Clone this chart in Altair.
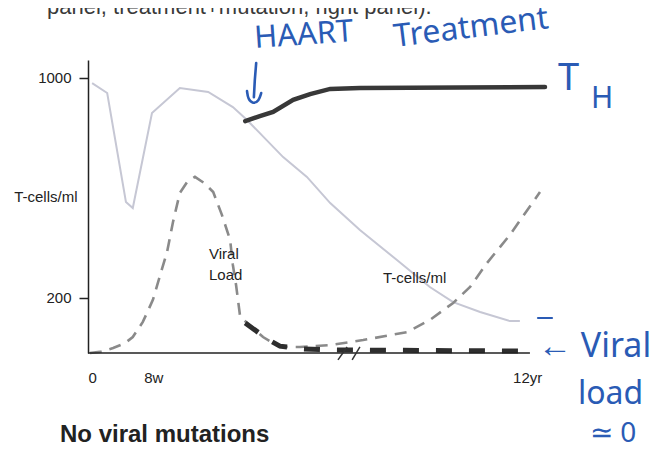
import altair as alt
import pandas as pd

# ---- data (time index 0..100, T-cells/ml) ----
tcell_t = [0.9, 4.2, 8.3, 9.8, 14.0, 20.1, 26.3, 31.7, 34.8, 42.7, 47.9, 53.0, 59.5, 67.6, 74.8, 79.9, 85.8, 92.3, 94.5]
tcell_v = [981, 945, 549, 527, 872, 963, 949, 894, 847, 712, 640, 545, 447, 338, 240, 185, 149, 116, 116]

haart_t = [34.4, 37.6, 40.5, 44.9, 48.6, 53.0, 59.5, 100.0]
haart_v = [843, 861, 876, 920, 941, 960, 963, 967]

viral_t = [0.4, 2.6, 5.5, 8.1, 9.8, 12.0, 14.2, 15.8, 17.3, 18.6, 20.1, 21.7, 23.4, 25.4, 27.4, 29.3, 31.1, 31.7,
           32.4, 33.3, 35.4, 38.3, 42.0, 46.4, 53.0, 60.2, 69.8, 74.8, 79.9, 83.6, 87.3, 92.3, 98.9]
viral_v = [0, 4, 18, 36, 58, 113, 193, 284, 367, 476, 582, 622, 640, 618, 585, 502, 411, 320,
           247, 131, 102, 58, 22, 22, 29, 47, 76, 120, 182, 240, 327, 429, 585]

treated_t = [34.4, 36.5, 39.2, 42.0, 46.4, 53.0, 96.7]
treated_v = [109, 84, 51, 25, 15, 11, 7]

hook_stem_t = [36.8, 36.5, 36.3]
hook_stem_v = [1054, 992, 930]
hook_cup_t = [34.8, 35.0, 36.1, 37.4, 37.9]
hook_cup_v = [952, 923, 905, 916, 945]

x_tick_values = [0, 14.3, 96.1]
x_tick_labels = ["0", "8w", "12yr"]
y_tick_values = [200, 1000]

FONT = "Liberation Sans"
HAND = "Noto Sans"
BLUE = "#2a5bb5"
OX, OY = 88, 60  # plot origin on the page

xs = alt.Scale(domain=[0, 100], nice=False, zero=False)
ys = alt.Scale(domain=[0, 1065], nice=False, zero=False)

label_expr = " : ".join(
    [f"abs(datum.value - {v}) < 0.5 ? '{l}'" for v, l in zip(x_tick_values, x_tick_labels)]
) + " : ''"

xaxis = alt.Axis(values=x_tick_values, labelExpr=label_expr, domain=False, ticks=False, grid=False,
                 labelPadding=17, labelFontSize=15, labelFont=FONT, labelColor="#222", title=None)
yaxis = alt.Axis(values=y_tick_values, tickSize=9, tickColor="#222", tickWidth=1.5, domainColor="#222",
                 domainWidth=1.5, grid=False, labelFontSize=15, labelFont=FONT, labelColor="#222",
                 labelPadding=8, format="d",
                 title="T-cells/ml", titleAngle=0, titleAlign="right", titleBaseline="middle",
                 titleX=-11, titleY=136, titleFontWeight="normal", titleFontSize=15, titleFont=FONT,
                 titleColor="#222")

X = alt.X("t:Q", scale=xs, axis=xaxis)
Y = alt.Y("v:Q", scale=ys, axis=yaxis)


def line(ts, vs, **kw):
    df = pd.DataFrame({"t": ts, "v": vs, "o": list(range(len(ts)))})
    return alt.Chart(df).mark_line(**kw).encode(x=X, y=Y, order="o:Q")


def note(text, px, py, size, color="#222", font=FONT, weight="normal", align="left",
         baseline="alphabetic", angle=0):
    return alt.Chart(pd.DataFrame({"s": [text]})).mark_text(
        align=align, baseline=baseline, fontSize=size, font=font, color=color,
        fontWeight=weight, angle=angle
    ).encode(text="s:N", x=alt.value(px - OX), y=alt.value(py - OY))


tcell = line(tcell_t, tcell_v, color="#c6c7d4", strokeWidth=2)
viral = line(viral_t, viral_v, color="#8a8a8a", strokeWidth=2.6, strokeDash=[12, 8])
haart = line(haart_t, haart_v, color="#383838", strokeWidth=4.5, strokeCap="round")
treated = line(treated_t, treated_v, color="#2e2e2e", strokeWidth=5, strokeDash=[16, 17])
stem = line(hook_stem_t, hook_stem_v, color=BLUE, strokeWidth=2.6, strokeCap="round")
cup = line(hook_cup_t, hook_cup_v, color=BLUE, strokeWidth=2.6, strokeCap="round", interpolate="basis")

xline = alt.Chart(pd.DataFrame({"t": [0], "t2": [96.7], "v": [0]})).mark_rule(
    color="#222", strokeWidth=1.5).encode(x=X, x2="t2:Q", y=Y)
breaks = alt.Chart(pd.DataFrame({"t": [54.7, 57.8], "t2": [56.7, 59.5], "v": [-25, -25], "v2": [22, 22]})).mark_rule(
    color="#333", strokeWidth=1.5).encode(x=X, x2="t2:Q", y=Y, y2="v2:Q")

blue_dash = alt.Chart(pd.DataFrame({"a": [0]})).mark_rule(color=BLUE, strokeWidth=2.2, strokeCap="round").encode(
    x=alt.value(538 - OX), x2=alt.value(552 - OX), y=alt.value(318 - OY))

notes = [
    note("panel, treatment+mutation, right panel).", 47, 14, 22, color="#3a3a3a"),
    note("Viral", 209, 259, 15),
    note("Load", 209, 280, 15),
    note("T-cells/ml", 383, 283, 15),
    note("No viral mutations", 60, 442, 24, weight="bold"),
    note("HAART", 255, 48, 31, color=BLUE, font=HAND, angle=356),
    note("Treatment", 395, 47, 32, color=BLUE, font=HAND, angle=353),
    note("T", 558, 90, 38, color=BLUE, font=HAND),
    note("H", 591, 108, 30, color=BLUE, font=HAND),
    note("\u2190 Viral", 538, 357, 34, color=BLUE, font=HAND),
    note("load", 578, 404, 32, color=BLUE, font=HAND),
    note("\u2243 0", 590, 442, 28, color=BLUE, font=HAND),
]

chart = alt.layer(tcell, viral, haart, treated, xline, breaks, stem, cup, blue_dash, *notes).properties(
    width=457, height=293,
    autosize=alt.AutoSizeParams(type="none"),
    padding={"left": 80, "top": 52, "right": 108, "bottom": 92},
    background="white",
).configure_view(stroke=None)

chart.save("out.html", embed_options={"renderer": "svg", "actions": False})
